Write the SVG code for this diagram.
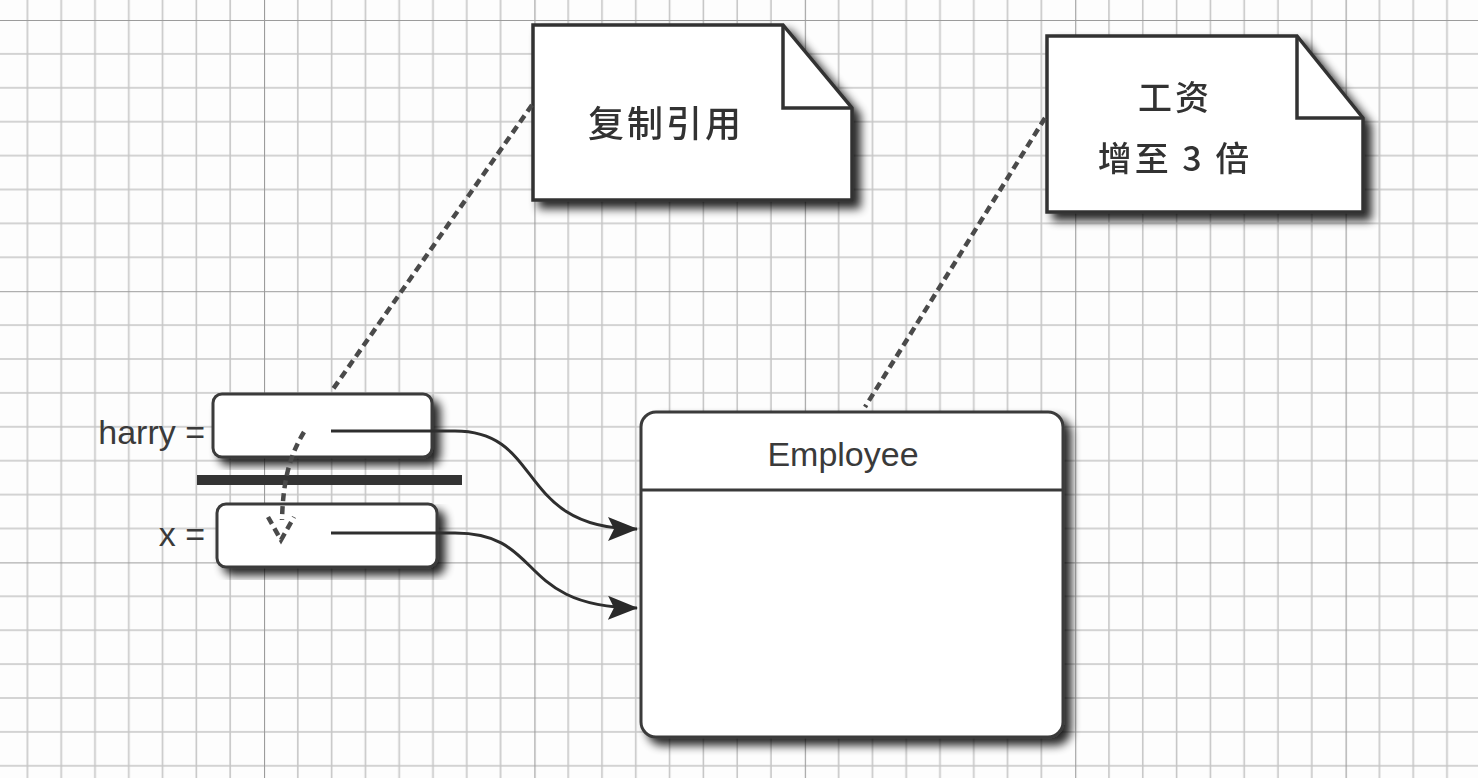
<svg xmlns="http://www.w3.org/2000/svg" width="1478" height="778" viewBox="0 0 1478 778">
  <style>
    .box { fill: #ffffff; stroke: #3a3a3a; stroke-width: 3; }
    .note { fill: #ffffff; stroke: #333333; stroke-width: 3.5; stroke-linejoin: miter; }
    .fold { fill: none; stroke: #333333; stroke-width: 3.5; }
    .lbl { font-family: "Liberation Sans", Arial, sans-serif; fill: #3a3a3a; }
    .cjk { font-family: "Noto Sans CJK SC", "Noto Sans", sans-serif; fill: #333333; letter-spacing: 3px; font-weight: 500; }
    .conn { fill: none; stroke: #2e2e2e; stroke-width: 3; }
    .dash { fill: none; stroke: #4a4a4a; stroke-width: 4.5; stroke-dasharray: 8 5; }
  </style>
  <defs>
    <pattern id="grid" patternUnits="userSpaceOnUse" x="264" y="20" width="270.4" height="271.2">
      <g stroke="#c6c6c6" stroke-width="1.6">
        <line x1="33.8" y1="0" x2="33.8" y2="271.2"/>
        <line x1="67.6" y1="0" x2="67.6" y2="271.2"/>
        <line x1="101.4" y1="0" x2="101.4" y2="271.2"/>
        <line x1="135.2" y1="0" x2="135.2" y2="271.2"/>
        <line x1="169" y1="0" x2="169" y2="271.2"/>
        <line x1="202.8" y1="0" x2="202.8" y2="271.2"/>
        <line x1="236.6" y1="0" x2="236.6" y2="271.2"/>
        <line x1="0" y1="33.9" x2="270.4" y2="33.9"/>
        <line x1="0" y1="67.8" x2="270.4" y2="67.8"/>
        <line x1="0" y1="101.7" x2="270.4" y2="101.7"/>
        <line x1="0" y1="135.6" x2="270.4" y2="135.6"/>
        <line x1="0" y1="169.5" x2="270.4" y2="169.5"/>
        <line x1="0" y1="203.4" x2="270.4" y2="203.4"/>
        <line x1="0" y1="237.3" x2="270.4" y2="237.3"/>
      </g>
      <g stroke="#9c9c9c" stroke-width="2.2">
        <line x1="0" y1="0" x2="0" y2="271.2"/>
        <line x1="0" y1="0" x2="270.4" y2="0"/>
      </g>
    </pattern>
    <filter id="shadow" x="-10%" y="-10%" width="130%" height="130%">
      <feGaussianBlur in="SourceAlpha" stdDeviation="5"/>
      <feOffset dx="7" dy="7" result="b"/>
      <feComponentTransfer><feFuncA type="linear" slope="0.85"/></feComponentTransfer>
      <feMerge><feMergeNode/><feMergeNode in="SourceGraphic"/></feMerge>
    </filter>
    <marker id="arrow" viewBox="0 0 30 24" refX="29" refY="12" markerWidth="30" markerHeight="24" markerUnits="userSpaceOnUse" orient="auto">
      <path d="M0,0 L30,12 L0,24 L6,12 Z" fill="#2a2a2a"/>
    </marker>
  </defs>

  <rect x="0" y="0" width="1478" height="778" fill="#fdfdfd"/>
  <rect x="0" y="0" width="1478" height="778" fill="url(#grid)"/>

  <g id="note-copy" filter="url(#shadow)">
    <path class="note" d="M533,25 H783 L852,108 V200 H533 Z"/>
    <path class="fold" d="M783,25 V108 H852"/>
    <text class="cjk" x="666" y="137" font-size="36" text-anchor="middle">复制引用</text>
  </g>

  <g id="note-salary" filter="url(#shadow)">
    <path class="note" d="M1047,36 H1297 L1363,118 V212 H1047 Z"/>
    <path class="fold" d="M1297,36 V118 H1363"/>
    <text class="cjk" x="1175" y="110" font-size="34" text-anchor="middle">工资</text>
    <text class="cjk" x="1175" y="171" font-size="34" text-anchor="middle">增至 3 倍</text>
  </g>

  <g id="harry">
    <text class="lbl" x="205" y="444" font-size="34" text-anchor="end">harry =</text>
    <rect class="box" x="213" y="394" width="219" height="63" rx="9" filter="url(#shadow)"/>
  </g>

  <g id="divider">
    <rect x="197" y="475" width="265" height="10" fill="#333333"/>
  </g>

  <g id="x">
    <text class="lbl" x="205" y="546" font-size="34" text-anchor="end">x =</text>
    <rect class="box" x="217" y="504" width="220" height="63" rx="9" filter="url(#shadow)"/>
  </g>

  <g id="employee">
    <rect class="box" x="641" y="412" width="422" height="325" rx="15" filter="url(#shadow)"/>
    <line x1="641" y1="490" x2="1063" y2="490" stroke="#3a3a3a" stroke-width="3"/>
    <text class="lbl" x="843" y="466" font-size="34" text-anchor="middle">Employee</text>
  </g>

  <g id="connectors">
    <path class="conn" d="M331,431 H455 C545,431 515,529 637,529" marker-end="url(#arrow)"/>
    <path class="conn" d="M331,533 H455 C545,533 515,607 637,608" marker-end="url(#arrow)"/>
    <line class="dash" x1="532" y1="105" x2="331" y2="392"/>
    <path class="dash" d="M304,432 C290,455 283,480 282,520"/>
    <path class="dash" d="M268,517 L281,540 L294,517" stroke-dasharray="5 3"/>
    <line class="dash" x1="1045" y1="118" x2="865" y2="407"/>
  </g>
</svg>
